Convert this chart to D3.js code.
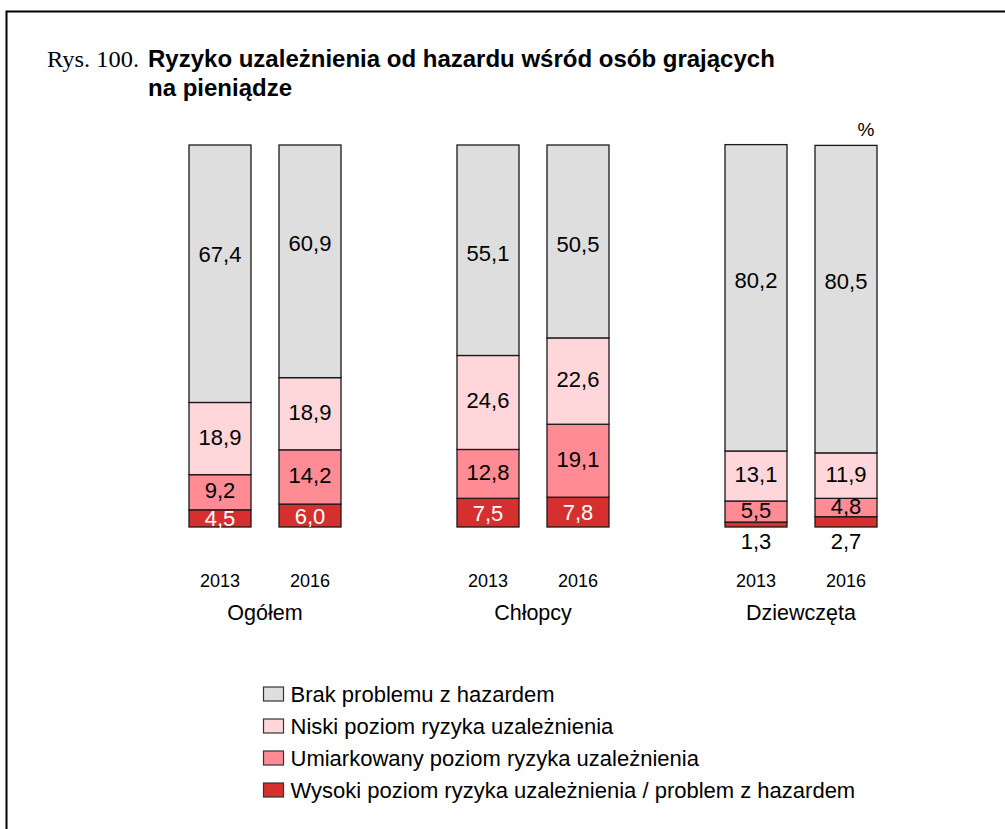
<!DOCTYPE html>
<html>
<head>
<meta charset="utf-8">
<script src="https://cdn.jsdelivr.net/npm/d3@7"></script>
<style>
  html, body { margin: 0; padding: 0; background: #fff; }
  svg { display: block; }
  text { font-family: "Liberation Sans", Arial, Helvetica, sans-serif; }
</style>
</head>
<body>
<svg id="chart" width="1005" height="829"></svg>
<script>
// Groups and survey years
const groups = ["Ogółem", "Chłopcy", "Dziewczęta"];
const years = ["2013", "2016"];

// Shares (%) per bar, in order: Ogółem 2013, 2016, Chłopcy 2013, 2016, Dziewczęta 2013, 2016
const brak        = [67.4, 60.9, 55.1, 50.5, 80.2, 80.5];
const niski       = [18.9, 18.9, 24.6, 22.6, 13.1, 11.9];
const umiarkowany = [9.2, 14.2, 12.8, 19.1, 5.5, 4.8];
const wysoki      = [4.5, 6.0, 7.5, 7.8, 1.3, 2.7];

// Series names as shown in the legend (top to bottom)
const seriesNames = [
  "Brak problemu z hazardem",
  "Niski poziom ryzyka uzależnienia",
  "Umiarkowany poziom ryzyka uzależnienia",
  "Wysoki poziom ryzyka uzależnienia / problem z hazardem"
];
const seriesKeys = ["brak", "niski", "umiarkowany", "wysoki"];

const colors = {
  brak: "#dedede",
  niski: "#ffd6d9",
  umiarkowany: "#ff8b95",
  wysoki: "#d52f2f"
};

// Build table rows from the arrays
const rows = [];
groups.forEach((g, gi) => {
  years.forEach((y, yi) => {
    const i = gi * years.length + yi;
    rows.push({
      group: g, year: y,
      brak: brak[i], niski: niski[i],
      umiarkowany: umiarkowany[i], wysoki: wysoki[i]
    });
  });
});

const svg = d3.select("#chart");

// Frame
svg.append("path")
  .attr("d", "M6.5,829 V11.5 H1005")
  .attr("fill", "none")
  .attr("stroke", "#000")
  .attr("stroke-width", 2);

// Title
const title = svg.append("g");
title.append("text")
  .attr("x", 47).attr("y", 67)
  .style("font-family", "'Liberation Serif', 'Times New Roman', serif")
  .style("font-size", "24px")
  .attr("textLength", 92)
  .attr("lengthAdjust", "spacingAndGlyphs")
  .text("Rys. 100.");
title.append("text")
  .attr("x", 148).attr("y", 67)
  .style("font-size", "24px").style("font-weight", "bold")
  .text("Ryzyko uzależnienia od hazardu wśród osób grających");
title.append("text")
  .attr("x", 148).attr("y", 96)
  .style("font-size", "24px").style("font-weight", "bold")
  .text("na pieniądze");

// Scales
const xGroup = d3.scaleBand().domain(groups).range([131, 935]);
const xYear = d3.scalePoint().domain(years).range([89, 179]);
const barW = 62;
const y = d3.scaleLinear().domain([0, 100]).range([527, 145]);

const fmtNum = d3.formatLocale({ decimal: ",", thousands: " ", grouping: [3], currency: ["", ""] }).format(".1f");

// Stack from the bottom: wysoki, umiarkowany, niski, brak
const stackOrder = ["wysoki", "umiarkowany", "niski", "brak"];
const stacked = d3.stack().keys(stackOrder)(rows);

// Vertical placement of the top segment's label as a fraction of its height from its base
const topLabelFrac = { "Ogółem": 0.575, "Chłopcy": 0.485, "Dziewczęta": 0.557 };

const barsG = svg.append("g");
stacked.forEach(layer => {
  const key = layer.key;
  layer.forEach(d => {
    const r = d.data;
    const cx = xGroup(r.group) + xYear(r.year);
    const y0 = y(d[0]), y1 = y(d[1]);
    barsG.append("rect")
      .attr("x", cx - barW / 2)
      .attr("y", y1)
      .attr("width", barW)
      .attr("height", y0 - y1)
      .attr("fill", colors[key])
      .attr("stroke", "#1a1a1a")
      .attr("stroke-width", 1.3);
  });
});

// Value labels
const labelsG = svg.append("g");
stacked.forEach(layer => {
  const key = layer.key;
  layer.forEach(d => {
    const r = d.data;
    const v = r[key];
    const cx = xGroup(r.group) + xYear(r.year);
    const y0 = y(d[0]), y1 = y(d[1]);
    let ly, fill = "#000";
    if (key === "brak") {
      ly = y0 - (y0 - y1) * topLabelFrac[r.group];
    } else if (key === "wysoki" && v < 3) {
      // thin segments get their label below the bar
      ly = 541;
    } else {
      ly = (y0 + y1) / 2 - 1.5;
      if (key === "wysoki") { ly = (y0 + y1) / 2 + 0.5; fill = "#fff"; }
    }
    labelsG.append("text")
      .attr("x", cx)
      .attr("y", ly)
      .attr("text-anchor", "middle")
      .attr("dominant-baseline", "central")
      .style("font-size", "22px")
      .attr("fill", fill)
      .text(fmtNum(v));
  });
});

// Year labels
const axisG = svg.append("g");
rows.forEach(r => {
  axisG.append("text")
    .attr("x", xGroup(r.group) + xYear(r.year))
    .attr("y", 586.5)
    .attr("text-anchor", "middle")
    .style("font-size", "18px")
    .text(r.year);
});
// Group labels
groups.forEach(g => {
  axisG.append("text")
    .attr("x", xGroup(g) + xGroup.bandwidth() / 2)
    .attr("y", 620)
    .attr("text-anchor", "middle")
    .style("font-size", "21.5px")
    .text(g);
});

// Unit
svg.append("text")
  .attr("x", 866).attr("y", 136)
  .attr("text-anchor", "middle")
  .style("font-size", "19px")
  .text("%");

// Legend
const legend = svg.append("g").attr("transform", "translate(263.5,687)");
seriesKeys.forEach((k, i) => {
  const gy = i * 32;
  legend.append("rect")
    .attr("x", 0).attr("y", gy)
    .attr("width", 20).attr("height", 14)
    .attr("fill", colors[k])
    .attr("stroke", "#333")
    .attr("stroke-width", 1.2);
  legend.append("text")
    .attr("x", 27).attr("y", gy + 15)
    .style("font-size", "22px")
    .text(seriesNames[i]);
});
</script>
</body>
</html>
